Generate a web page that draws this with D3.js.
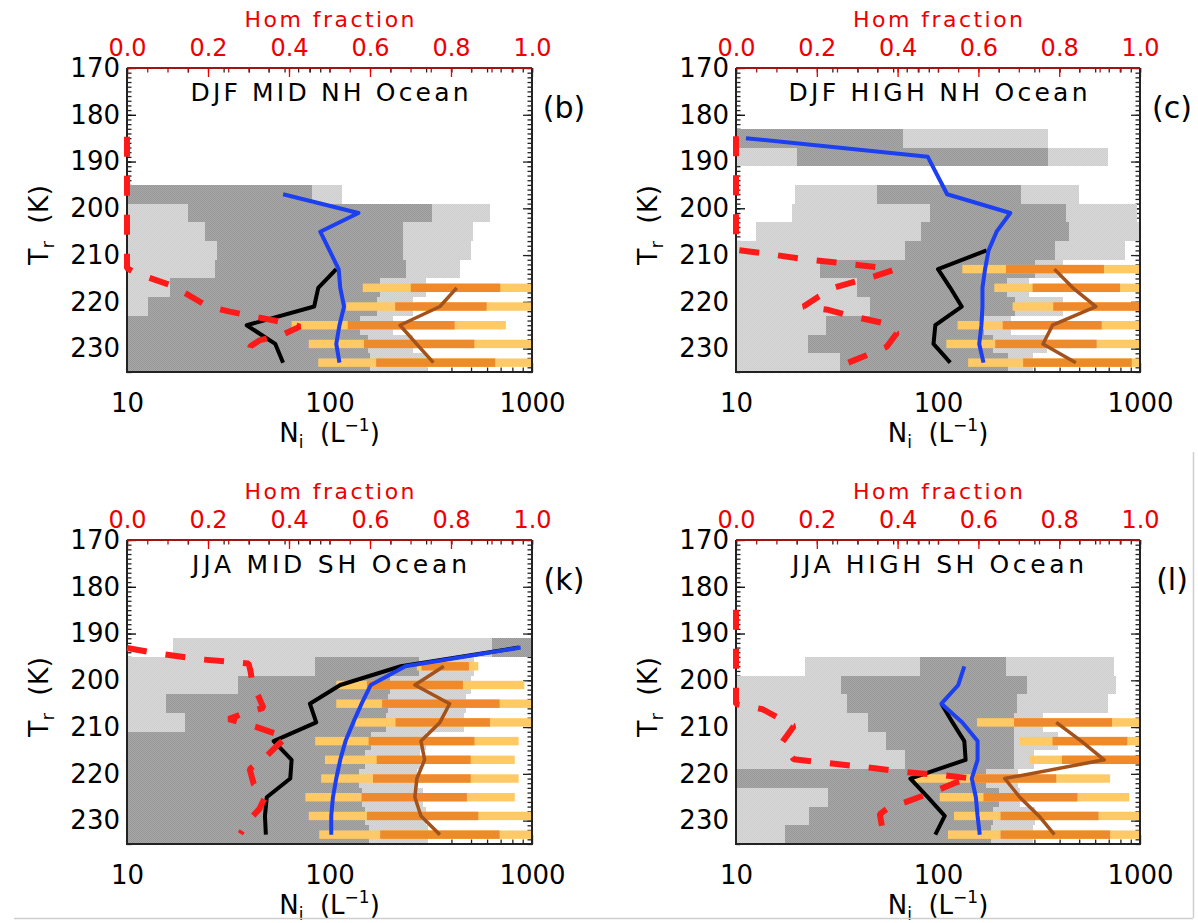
<!DOCTYPE html>
<html>
<head>
<meta charset="utf-8">
<script src="https://cdn.jsdelivr.net/npm/d3@7"></script>
<style>
  body { margin: 0; background: #fff; }
  svg { display: block; }
  text { font-family: "DejaVu Sans", sans-serif; }
</style>
</head>
<body>
<svg id="chart" width="1198" height="923"></svg>
<script>
// ---------------- data ----------------
const tempTicks = [170, 180, 190, 200, 210, 220, 230];
const niTicks = [10, 100, 1000];
const homTicks = [0, 0.2, 0.4, 0.6, 0.8, 1.0];
const binWidth = 4;          // temperature bin width (K)
const barHalf = 0.9;         // half thickness of the range bars (K)

// (b) DJF MID NH Ocean
const bBinT   = [197, 201, 205, 209, 213, 217, 221, 225, 229, 233];
const bLight  = [[5,115],[5,621],[5,513],[5,500],[5,441],[5,300],[5,259],[5,206],[5,259],[5,302]];
const bDark   = [[5,81.6],[20.1,320],[24.3,231],[27.7,231],[27.2,240],[16.3,177],[12.7,171],[5,141],[5,155],[5,158]];
const bBarT   = [217, 221, 225, 229, 233];
const bOuter  = [[146,1200],[121,1200],[65,743],[79,1200],[88,1200]];
const bInner  = [[252,697],[211,597],[123,415],[148,519],[170,658]];
const bBrown  = [425, 351, 223, 269, 326];
const bBlueT  = [197, 201, 205, 209, 213, 217, 221, 225, 229, 233];
const bBlue   = [59, 139, 90, 100, 111, 113, 118, 112, 108, 112];
const bBlackT = [213, 217, 221, 225, 229, 233];
const bBlack  = [108, 88, 84, 39, 54, 59];
const bHomT   = [184.7, 212.8, 213.8, 216.6, 221, 222.1, 224.6, 225.3, 227.1, 228.2, 229.5, 231.4];
const bHom    = [0, 0, 0.02, 0.114, 0.2, 0.254, 0.398, 0.427, 0.382, 0.328, 0.305, 0.30];

// (c) DJF HIGH NH Ocean
const cBinT   = [185, 189, 197, 201, 205, 209, 213, 217, 221, 225, 229, 233];
const cLight  = [[5,349],[5,696],[19.6,501],[18.9,970],[12.5,990],[5,843],[5,417],[5,283],[5,417],[5,230],[5,345],[5,296]];
const cDark   = [[5,67],[20,349],[49.8,259],[91,430],[82,443],[68.7,380],[26,302],[39.5,219],[46,240],[28,168],[22.8,187],[32.7,222]];
const cBarT   = [213, 217, 221, 225, 229, 233];
const cOuter  = [[132,1200],[190,1200],[234,1200],[125,1200],[110,1200],[141,1200]];
const cInner  = [[217,663],[294,796],[372,1200],[209,646],[192,610],[264,910]];
const cBrown  = [377, 465, 605, 369, 331, 481];
const cBlueT  = [185, 189, 197, 201, 205, 209, 213, 217, 221, 225, 229, 233];
const cBlue   = [11.2, 89, 111, 228, 195, 178, 171, 166, 166, 164, 160, 168];
const cBlackT = [209, 213, 217, 221, 225, 229, 233];
const cBlack  = [174, 100, 115, 131, 97, 95, 115];
const cHomT   = [184.6, 208.9, 209.6, 210.9, 211.8, 212.8, 213.2, 214.5, 216.9, 218.9, 221, 221.7, 222.8, 224.7, 226.7, 229.6, 231.4, 233];
const cHom    = [0, 0, 0.067, 0.171, 0.27, 0.369, 0.389, 0.344, 0.245, 0.204, 0.167, 0.228, 0.274, 0.373, 0.398, 0.373, 0.323, 0.278];

// (k) JJA MID SH Ocean
const kBinT   = [193, 197, 201, 205, 209, 213, 217, 221, 225, 229, 233];
const kLight  = [[16.9,1200],[5,520],[5,500],[5,470],[5,460],[5,300],[5,280],[5,270],[5,290],[5,300],[5,307]];
const kDark   = [[633,1200],[85,276],[35.5,200],[15.5,195],[19.3,190],[5,160],[5,150],[5,140],[5,145],[5,150],[5,156]];
const kBarT   = [197, 201, 205, 209, 213, 217, 221, 225, 229, 233];
const kOuter  = [[270,543],[108,917],[108,1200],[134,1200],[85,859],[95,822],[91,859],[76,822],[79,1200],[89,1200]];
const kInner  = [[285,488],[153,456],[182,692],[212,620],[156,520],[171,498],[164,498],[144,477],[153,543],[178,692]];
const kBrown  = [367, 264, 392, 351, 283, 295, 270, 264, 283, 351];
const kBlueT  = [193, 197, 201, 205, 209, 213, 217, 221, 225, 229, 233];
const kBlue   = [879, 237, 160, 144, 131, 120, 113, 108, 104, 102, 102];
const kBlackT = [193, 197, 201, 205, 209, 213, 217, 221, 225, 229, 233];
const kBlack  = [860, 225, 113, 80, 86, 53, 65, 64, 49, 48, 48.5];
const kHomT   = [193.1, 194.3, 195.5, 196.4, 198, 201, 203.5, 205.9, 207, 208.3, 210, 212.2, 214, 216.1, 219, 222.2, 225, 227.5, 230, 232.8];
const kHom    = [0, 0.08, 0.18, 0.3, 0.305, 0.31, 0.325, 0.337, 0.29, 0.251, 0.32, 0.394, 0.37, 0.346, 0.303, 0.313, 0.341, 0.327, 0.30, 0.28];

// (l) JJA HIGH SH Ocean
const lBinT   = [197, 201, 205, 209, 213, 217, 221, 225, 229, 233];
const lLight  = [[22,743],[5,759],[5,695],[5,330],[5,394],[5,300],[5,250],[5,254],[5,302],[5,296]];
const lDark   = [[81,218],[33,275],[35.6,247],[45,238],[55.5,238],[68.5,238],[5,172],[28.6,200],[23,187],[17.4,183]];
const lBarT   = [209, 213, 217, 221, 225, 229, 233];
const lOuter  = [[156,1200],[254,1200],[284,1200],[76,711],[102,885],[120,1200],[112,1200]];
const lInner  = [[238,727],[369,865],[411,1200],[151,385],[168,490],[204,623],[204,711]];
const lBrown  = [385, 512, 665, 214, 254, 316, 377];
const lBlueT  = [197, 201, 205, 209, 213, 217, 221, 225, 229, 233];
const lBlue   = [135, 126, 104, 132, 157, 157, 147, 154, 157, 161];
const lBlackT = [205, 209, 213, 217, 221, 225, 229, 233];
const lBlack  = [104, 118, 135, 137, 73, 89, 108, 97];
const lHomT   = [184.9, 205.1, 206.2, 209.8, 213.3, 216.9, 217.7, 218.6, 219.6, 220.3, 221, 221.8, 224, 226.1, 227.1, 228.6, 231.1];
const lHom    = [0, 0, 0.066, 0.143, 0.114, 0.143, 0.228, 0.323, 0.418, 0.513, 0.584, 0.546, 0.484, 0.418, 0.38, 0.356, 0.361];

// panel table
const panels = [
  {key: "b", title: "DJF MID NH Ocean",  tag: "(b)", col: 0, row: 0, binT: bBinT, light: bLight, dark: bDark, barT: bBarT, outer: bOuter, inner: bInner, brown: bBrown, blueT: bBlueT, blue: bBlue, blackT: bBlackT, black: bBlack, homT: bHomT, hom: bHom},
  {key: "c", title: "DJF HIGH NH Ocean", tag: "(c)", col: 1, row: 0, binT: cBinT, light: cLight, dark: cDark, barT: cBarT, outer: cOuter, inner: cInner, brown: cBrown, blueT: cBlueT, blue: cBlue, blackT: cBlackT, black: cBlack, homT: cHomT, hom: cHom},
  {key: "k", title: "JJA MID SH Ocean",  tag: "(k)", col: 0, row: 1, binT: kBinT, light: kLight, dark: kDark, barT: kBarT, outer: kOuter, inner: kInner, brown: kBrown, blueT: kBlueT, blue: kBlue, blackT: kBlackT, black: kBlack, homT: kHomT, hom: kHom},
  {key: "l", title: "JJA HIGH SH Ocean", tag: "(l)", col: 1, row: 1, binT: lBinT, light: lLight, dark: lDark, barT: lBarT, outer: lOuter, inner: lInner, brown: lBrown, blueT: lBlueT, blue: lBlue, blackT: lBlackT, black: lBlack, homT: lHomT, hom: lHom}
];

// ---------------- layout & style ----------------
const frameX = [[127, 532], [736, 1140]];
const frameY = [[68, 372], [540, 844]];
const titleLen = {b: 278, c: 299, k: 275, l: 292};
const col = {
  frame: "#222", homAxis: "#a01414", red: "#ff1a1a",
  yellow: "#ffc966", orange: "#ef8a2c", brown: "#a3521c",
  blue: "#1c3ff2", black: "#000"
};

const svg = d3.select("#chart");
const defs = svg.append("defs");

// fine grain texture for the shaded frequency ranges
function grain(id, base, dot) {
  const p = defs.append("pattern").attr("id", id)
    .attr("width", 2).attr("height", 2).attr("patternUnits", "userSpaceOnUse");
  p.append("rect").attr("width", 2).attr("height", 2).attr("fill", base);
  p.append("rect").attr("width", 1).attr("height", 1).attr("fill", dot);
  p.append("rect").attr("x", 1).attr("y", 1).attr("width", 1).attr("height", 1).attr("fill", dot);
}
grain("grainDark", "#a7a7a7", "#989898");
grain("grainLight", "#d9d9d9", "#cdcdcd");

function styleAxis(sel, color, fontSize) {
  sel.select(".domain").remove();
  sel.attr("font-family", null).attr("font-size", fontSize || null);
  sel.selectAll("line").attr("stroke", color).attr("stroke-width", 1.3);
  sel.selectAll("text").attr("fill", color);
}

function drawPanel(P) {
  const [x0, x1] = frameX[P.col];
  const [y0, y1] = frameY[P.row];
  const x = d3.scaleLog().domain([10, 1000]).range([x0, x1]);
  const xh = d3.scaleLinear().domain([0, 1]).range([x0, x1]);
  const y = d3.scaleLinear().domain([170, 235]).range([y0, y1]);
  const g = svg.append("g").attr("class", "panel-" + P.key);
  const clipId = "clip-" + P.key;
  defs.append("clipPath").attr("id", clipId).append("rect")
    .attr("x", x0).attr("y", y0).attr("width", x1 - x0).attr("height", y1 - y0);

  // ---- tick marks (inside the frame) and labels ----
  const axes = g.append("g");
  const minorT = d3.range(170, 236);
  const logMinor = d3.range(2, 10).flatMap(k => [k * 10, k * 100]);
  const homMinor = d3.range(0, 21).map(i => i * 0.05);

  axes.append("g").attr("transform", `translate(${x0},0)`)
    .call(d3.axisLeft(y).tickValues(minorT).tickSize(-4.5).tickFormat(() => ""))
    .call(styleAxis, col.frame);
  axes.append("g").attr("transform", `translate(${x0},0)`)
    .call(d3.axisLeft(y).tickValues(tempTicks).tickSize(-9).tickPadding(7).tickFormat(d3.format("d")))
    .call(styleAxis, "#000", 26);
  axes.append("g").attr("transform", `translate(${x1},0)`)
    .call(d3.axisRight(y).tickValues(minorT).tickSize(-4.5).tickFormat(() => ""))
    .call(styleAxis, col.frame);
  axes.append("g").attr("transform", `translate(${x1},0)`)
    .call(d3.axisRight(y).tickValues(tempTicks).tickSize(-9).tickFormat(() => ""))
    .call(styleAxis, col.frame);

  axes.append("g").attr("transform", `translate(0,${y1})`)
    .call(d3.axisBottom(x).tickValues(logMinor).tickSize(-4.5).tickFormat(() => ""))
    .call(styleAxis, col.frame);
  axes.append("g").attr("transform", `translate(0,${y1})`)
    .call(d3.axisBottom(x).tickValues(niTicks).tickSize(-9).tickPadding(22).tickFormat(d3.format("d")))
    .call(styleAxis, "#000", 26);
  axes.append("g").attr("transform", `translate(0,${y0})`)
    .call(d3.axisTop(x).tickValues(logMinor.concat(niTicks)).tickSize(-4.5).tickFormat(() => ""))
    .call(styleAxis, col.frame);

  axes.append("g").attr("transform", `translate(0,${y0})`)
    .call(d3.axisTop(xh).tickValues(homMinor).tickSize(-4.5).tickFormat(() => ""))
    .call(styleAxis, col.homAxis);
  axes.append("g").attr("transform", `translate(0,${y0})`)
    .call(d3.axisTop(xh).tickValues(homTicks).tickSize(-9).tickPadding(12).tickFormat(d3.format(".1f")))
    .call(styleAxis, "#ee0000", 24);

  // ---- shaded ranges ----
  const plot = g.append("g").attr("clip-path", `url(#${clipId})`);
  const binRect = (sel, ranges, fill) => sel.selectAll(null)
    .data(P.binT.map((t, i) => ({t, r: ranges[i]})))
    .join("rect")
    .attr("x", d => x(d.r[0]))
    .attr("width", d => x(d.r[1]) - x(d.r[0]))
    .attr("y", d => y(d.t - binWidth / 2))
    .attr("height", d => y(d.t + binWidth / 2) - y(d.t - binWidth / 2))
    .attr("fill", fill)
    .attr("shape-rendering", "crispEdges");
  binRect(plot.append("g"), P.light, "url(#grainLight)");
  binRect(plot.append("g"), P.dark, "url(#grainDark)");

  // ---- range bars ----
  const barRect = (sel, ranges, fill) => sel.selectAll(null)
    .data(P.barT.map((t, i) => ({t, r: ranges[i]})))
    .join("rect")
    .attr("x", d => x(d.r[0]))
    .attr("width", d => x(d.r[1]) - x(d.r[0]))
    .attr("y", d => y(d.t - barHalf))
    .attr("height", d => y(d.t + barHalf) - y(d.t - barHalf))
    .attr("fill", fill);
  barRect(plot.append("g"), P.outer, col.yellow);
  barRect(plot.append("g"), P.inner, col.orange);

  // ---- frame ----
  const fr = g.append("g").attr("fill", "none").attr("stroke-width", 2);
  fr.append("path").attr("stroke", col.frame)
    .attr("d", `M${x0},${y0}V${y1}H${x1}V${y0}`);
  fr.append("line").attr("stroke", col.homAxis).attr("stroke-width", 2.2)
    .attr("x1", x0).attr("x2", x1).attr("y1", y0).attr("y2", y0);

  // ---- profiles ----
  const line = d3.line().x(d => x(d.v)).y(d => y(d.t));
  const pts = (ts, vs) => ts.map((t, i) => ({t, v: vs[i]}));
  const lines = g.append("g").attr("fill", "none").attr("stroke-linejoin", "round");
  lines.append("path").datum(pts(P.blackT, P.black)).attr("d", line)
    .attr("stroke", col.black).attr("stroke-width", 4);
  lines.append("path").datum(pts(P.blueT, P.blue)).attr("d", line)
    .attr("stroke", col.blue).attr("stroke-width", 4);
  lines.append("path").datum(pts(P.barT, P.brown)).attr("d", line)
    .attr("stroke", col.brown).attr("stroke-width", 3.5);

  const homLine = d3.line().x(d => xh(d.v)).y(d => y(d.t));
  lines.append("path").datum(pts(P.homT, P.hom)).attr("d", homLine)
    .attr("stroke", col.red).attr("stroke-width", 6)
    .attr("stroke-dasharray", "20,19").attr("stroke-linejoin", "bevel");

  // ---- texts ----
  const cx = (x0 + x1) / 2;
  g.append("text").attr("x", cx).attr("y", y0 + 33).attr("text-anchor", "middle")
    .attr("font-size", 25).attr("textLength", titleLen[P.key]).attr("lengthAdjust", "spacing")
    .text(P.title);
  g.append("text").attr("x", x1 + 32).attr("y", y0 + 50).attr("text-anchor", "middle")
    .attr("font-size", 30).text(P.tag);
  g.append("text").attr("x", cx).attr("y", y0 - 41).attr("text-anchor", "middle")
    .attr("font-size", 22).attr("fill", "#ee0000")
    .attr("textLength", 170).attr("lengthAdjust", "spacing").text("Hom fraction");

  const nl = g.append("text").attr("x", cx).attr("y", y1 + 70).attr("text-anchor", "middle").attr("font-size", 26);
  nl.append("tspan").text("N");
  nl.append("tspan").attr("font-size", 17).attr("dy", 6).text("i");
  nl.append("tspan").attr("dy", -6).text("\u00a0\u00a0(L");
  nl.append("tspan").attr("font-size", 17).attr("dy", -11).text("\u22121");
  nl.append("tspan").attr("dy", 11).text(")");

  const ty = (y0 + y1) / 2 + 5;
  const tl = g.append("text").attr("transform", `translate(${x0 - 79},${ty}) rotate(-90)`)
    .attr("text-anchor", "middle").attr("font-size", 27);
  tl.append("tspan").text("T");
  tl.append("tspan").attr("font-size", 18).attr("dy", 6).text("r");
  tl.append("tspan").attr("dy", -6).text("\u00a0\u00a0(K)");
}

panels.forEach(drawPanel);

// thin page edges along the lower right
svg.append("line").attr("x1", 14).attr("x2", 1193).attr("y1", 918.5).attr("y2", 918.5)
  .attr("stroke", "#cfcfcf").attr("stroke-width", 1.5);
svg.append("line").attr("x1", 1193.5).attr("x2", 1193.5).attr("y1", 452).attr("y2", 918)
  .attr("stroke", "#cfcfcf").attr("stroke-width", 1.5);
</script>
</body>
</html>
